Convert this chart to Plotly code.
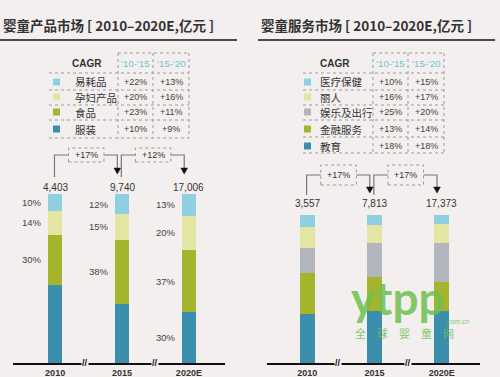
import plotly.graph_objects as go

# ---------------- data ----------------
years = ["2010", "2015", "2020E"]

# products market (stack order bottom -> top)
product_names = ["服装", "食品", "孕妇产品", "易耗品"]
clothing_share = [46, 35, 30]
food_share = [30, 38, 37]
maternity_share = [14, 15, 20]
consumable_share = [10, 12, 13]
clothing_label_shown = [False, False, True]
product_totals = [4403, 9740, 17006]
product_growth = ["+17%", "+12%"]
product_cagr_1015 = ["+10%", "+23%", "+20%", "+22%"]
product_cagr_1520 = ["+9%", "+11%", "+16%", "+13%"]

# services market (stack order bottom -> top)
service_names = ["教育", "金融服务", "娱乐及出行", "丽人", "医疗保健"]
education_share = [33, 35, 35]
finance_share = [28, 23, 20]
leisure_share = [17, 23, 26]
beauty_share = [14, 12, 13]
health_share = [8, 7, 6]
service_totals = [3557, 7813, 17373]
service_growth = ["+17%", "+17%"]
service_cagr_1015 = ["+18%", "+13%", "+25%", "+16%", "+10%"]
service_cagr_1520 = ["+18%", "+14%", "+20%", "+17%", "+15%"]

cagr_headers = ["‘10-‘15", "‘15-‘20"]

# ---------------- style ----------------
BLUE, GREEN, YELLOW, LBLUE, GRAY = "#3b8fad", "#a4b42c", "#e3e6a2", "#8fcfe2", "#b3b5bd"
product_colors = [BLUE, GREEN, YELLOW, LBLUE]
service_colors = [BLUE, GREEN, GRAY, YELLOW, LBLUE]
BG = "#f3efee"
TXT = "#333333"
FONT = "Liberation Sans, Noto Sans CJK SC, sans-serif"
CJK = "Noto Sans CJK SC, sans-serif"

W, H = 500, 377


def px(x):
    return x / W


def py(y):
    return 1 - y / H


def ann(**kw):
    kw.setdefault("xanchor", "center")
    kw.setdefault("yanchor", "middle")
    kw.setdefault("showarrow", False)
    return kw


product_shares = [clothing_share, food_share, maternity_share, consumable_share]
product_masks = [clothing_label_shown, [True] * 3, [True] * 3, [True] * 3]
service_shares = [education_share, finance_share, leisure_share, beauty_share, health_share]

panels = [
    dict(xa="x", ya="y", title="婴童产品市场 [ 2010–2020E,亿元 ]", tx=1, rule=(0, 237),
         xdom=(13, 225), ydom=(363, 194), xr=(-0.63, 2.54),
         names=product_names, colors=product_colors, shares=product_shares,
         masks=product_masks, totals=product_totals, growth=product_growth,
         cagr=(product_cagr_1015, product_cagr_1520),
         tbl=dict(cagr_x=87, cols=(135.5, 171), vlines=(118, 153, 189), top=53,
                  hl=(49, 189), rows=(82, 97, 112, 129), rlines=(73, 90, 105, 120, 138),
                  sq=53, lab=73),
         conn=dict(base=177, top=155, box=(148, 162), tip=174, label=187)),
    dict(xa="x2", ya="y2", title="婴童服务市场 [ 2010–2020E,亿元 ]", tx=259, rule=(258, 495),
         xdom=(267, 480), ydom=(363, 215), xr=(-0.60, 2.57),
         names=service_names, colors=service_colors, shares=service_shares,
         masks=None, totals=service_totals, growth=service_growth,
         cagr=(service_cagr_1015, service_cagr_1520),
         tbl=dict(cagr_x=335, cols=(390.5, 426), vlines=(373, 408, 444), top=53,
                  hl=(303, 444), rows=(82, 97, 112, 129, 146), rlines=(73, 90, 105, 120, 137, 153),
                  sq=304, lab=318),
         conn=dict(base=195, top=175, box=(165, 185), tip=193, label=203)),
]

fig = go.Figure()
shapes = []
annotations = []
BAR_W = 0.22

for p in panels:
    xa, ya = p["xa"], p["ya"]
    xs = list(range(len(years)))
    # bars
    for name, color, vals in zip(p["names"], p["colors"], p["shares"]):
        fig.add_trace(go.Bar(x=xs, y=vals, name=name, width=BAR_W,
                             marker=dict(color=color, line=dict(width=0)),
                             xaxis=xa, yaxis=ya, showlegend=False, hoverinfo="skip"))
    # percentage labels
    if p["masks"] is not None:
        for i in xs:
            cum = 0
            for vals, mask in zip(p["shares"], p["masks"]):
                v = vals[i]
                if mask[i]:
                    annotations.append(ann(x=i - BAR_W / 2, y=cum + v / 2, xref=xa, yref=ya,
                                           text=f"{v}%", xanchor="right", xshift=-4,
                                           font=dict(size=9.5, color="#444", family=FONT)))
                cum += v
    # totals
    c = p["conn"]
    for i, t in enumerate(p["totals"]):
        annotations.append(ann(x=i, y=py(c["label"]), xref=xa, yref="paper", text=f"{t:,}",
                               font=dict(size=10, color=TXT, family=FONT)))
    # growth connectors
    for i, g in enumerate(p["growth"]):
        x0, b0, b1, xa_end = i - 0.01, i + 0.2, i + 0.73, i + 0.93
        shapes.append(dict(type="path", xref=xa, yref="paper",
                           path=f"M {x0},{py(c['base'])} L {x0},{py(c['top'])} L {b0},{py(c['top'])}",
                           line=dict(color="#777", width=1.2)))
        shapes.append(dict(type="path", xref=xa, yref="paper",
                           path=f"M {b1},{py(c['top'])} L {xa_end},{py(c['top'])} L {xa_end},{py(c['tip'] - 5)}",
                           line=dict(color="#777", width=1.2)))
        shapes.append(dict(type="path", xref=xa, yref="paper",
                           path=(f"M {xa_end - 0.05},{py(c['tip'] - 6)} L {xa_end + 0.05},{py(c['tip'] - 6)} "
                                 f"L {xa_end},{py(c['tip'])} Z"),
                           fillcolor="#111", line=dict(color="#111", width=0.5)))
        shapes.append(dict(type="rect", xref=xa, yref="paper", x0=b0, x1=b1,
                           y0=py(c["box"][1]), y1=py(c["box"][0]),
                           line=dict(color="#999", width=1, dash="dot")))
        annotations.append(ann(x=(b0 + b1) / 2, y=py((c["box"][0] + c["box"][1]) / 2), xref=xa,
                               yref="paper", text=g, font=dict(size=9, color=TXT, family=FONT)))
    # axis break marks
    for bx in (0.45, 1.5):
        annotations.append(ann(x=bx, y=py(363), xref=xa, yref="paper", text="<b>//</b>",
                               bgcolor=BG, borderpad=0,
                               font=dict(size=9, color="#111", family=FONT)))
    # title + rule
    annotations.append(ann(x=px(p["tx"]), y=py(25), xref="paper", yref="paper", xanchor="left",
                           text=f"<b>{p['title']}</b>",
                           font=dict(size=13.5, color=TXT, family=CJK)))
    shapes.append(dict(type="line", xref="paper", yref="paper", x0=px(p["rule"][0]),
                       x1=px(p["rule"][1]), y0=py(40), y1=py(40),
                       line=dict(color="#4a4a4a", width=2)))
    # CAGR table
    t = p["tbl"]
    annotations.append(ann(x=px(t["cagr_x"]), y=py(63), xref="paper", yref="paper", text="<b>CAGR</b>",
                           font=dict(size=10, color=TXT, family=FONT)))
    for cx, h in zip(t["cols"], cagr_headers):
        annotations.append(ann(x=px(cx), y=py(63), xref="paper", yref="paper", text=h,
                               font=dict(size=9.5, color="#6cc3d6", family=FONT)))
    for vx in t["vlines"]:
        shapes.append(dict(type="line", xref="paper", yref="paper", x0=px(vx), x1=px(vx),
                           y0=py(t["top"]), y1=py(t["rlines"][-1]),
                           line=dict(color="#9a9a9a", width=1, dash="dot")))
    shapes.append(dict(type="line", xref="paper", yref="paper", x0=px(t["vlines"][0]),
                       x1=px(t["vlines"][-1]), y0=py(t["top"]), y1=py(t["top"]),
                       line=dict(color="#9a9a9a", width=1, dash="dot")))
    for ry in t["rlines"]:
        shapes.append(dict(type="line", xref="paper", yref="paper", x0=px(t["hl"][0]),
                           x1=px(t["hl"][1]), y0=py(ry), y1=py(ry),
                           line=dict(color="#9a9a9a", width=1, dash="dot")))
    n = len(p["names"])
    c1, c2 = p["cagr"]
    for k in range(n):
        j = n - 1 - k  # legend top row = top of stack
        ry = t["rows"][k]
        shapes.append(dict(type="rect", xref="paper", yref="paper", x0=px(t["sq"]), x1=px(t["sq"] + 7),
                           y0=py(ry + 3.5), y1=py(ry - 3.5), fillcolor=p["colors"][j],
                           line=dict(width=0)))
        annotations.append(ann(x=px(t["lab"]), y=py(ry), xref="paper", yref="paper", xanchor="left",
                               text=p["names"][j], font=dict(size=10.5, color=TXT, family=CJK)))
        for cx, vals in zip(t["cols"], (c1, c2)):
            annotations.append(ann(x=px(cx), y=py(ry), xref="paper", yref="paper", text=vals[j],
                                   font=dict(size=9, color="#444", family=FONT)))

# watermark
WM = "rgba(110,192,78,0.85)"
annotations.append(ann(x=px(398), y=py(297), xref="paper", yref="paper", text="<b>ytpp</b>",
                       font=dict(size=46, color=WM, family="Lato, sans-serif")))
annotations.append(ann(x=px(457), y=py(321), xref="paper", yref="paper", text=".com.cn",
                       font=dict(size=7, color=WM, family=FONT)))
annotations.append(ann(x=px(404), y=py(333), xref="paper", yref="paper", text="全　球　婴　童　网",
                       font=dict(size=11, color=WM, family=CJK)))

axis_common = dict(tickvals=[0, 1, 2], ticktext=[f"<b>{y}</b>" for y in years], showline=True,
                   linecolor="#111", linewidth=2, ticks="", showgrid=False, zeroline=False,
                   automargin=False, fixedrange=True,
                   tickfont=dict(size=9, color=TXT, family=FONT))
yaxis_common = dict(range=[0, 100], visible=False, showgrid=False, zeroline=False, fixedrange=True)

L, R = panels
fig.update_layout(
    width=W, height=H, margin=dict(l=0, r=0, t=0, b=0),
    paper_bgcolor=BG, plot_bgcolor=BG, barmode="stack", bargap=0,
    font=dict(family=FONT, color=TXT),
    xaxis=dict(domain=[px(L["xdom"][0]), px(L["xdom"][1])], range=list(L["xr"]), anchor="y", **axis_common),
    yaxis=dict(domain=[py(L["ydom"][0]), py(L["ydom"][1])], anchor="x", **yaxis_common),
    xaxis2=dict(domain=[px(R["xdom"][0]), px(R["xdom"][1])], range=list(R["xr"]), anchor="y2", **axis_common),
    yaxis2=dict(domain=[py(R["ydom"][0]), py(R["ydom"][1])], anchor="x2", **yaxis_common),
    shapes=shapes, annotations=annotations, showlegend=False,
)

fig.write_html("out.html", config={"displayModeBar": False},
               post_script="document.body.style.margin='0px';document.body.style.overflow='hidden';")
